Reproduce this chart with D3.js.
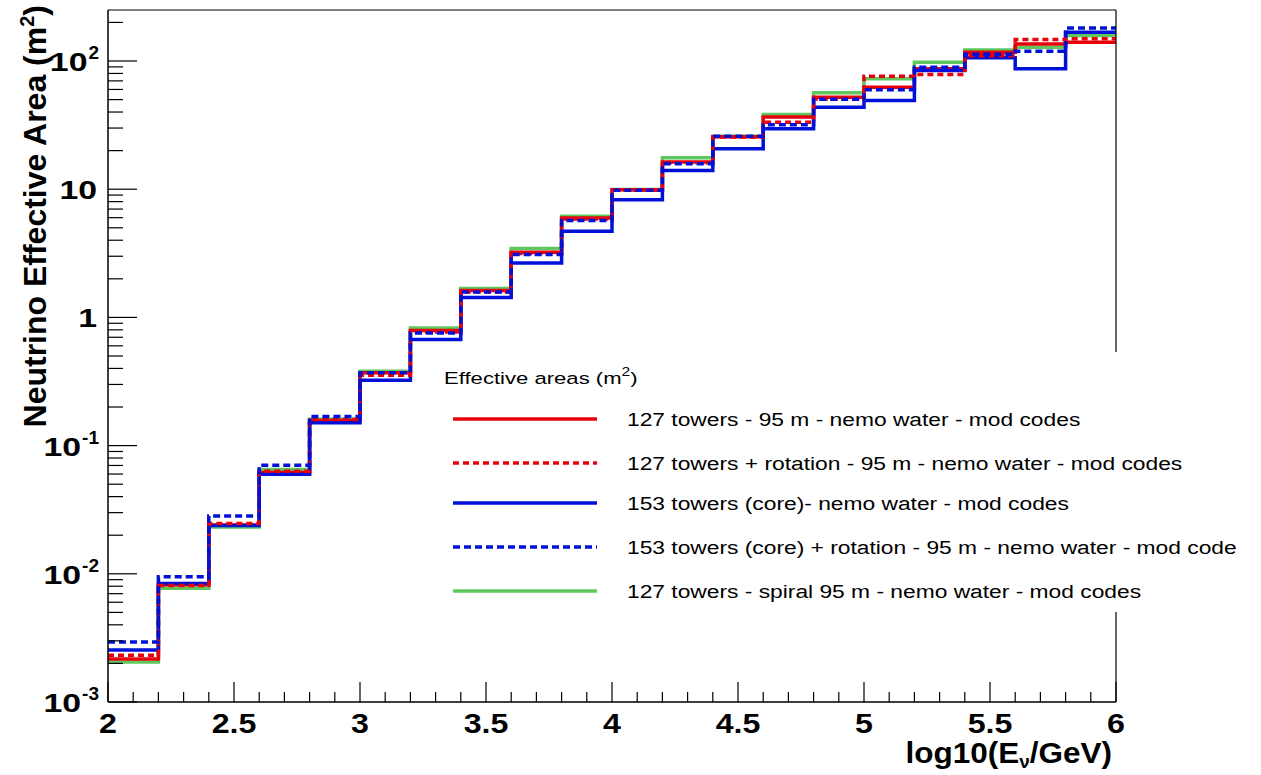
<!DOCTYPE html>
<html>
<head>
<meta charset="utf-8">
<script src="https://cdn.jsdelivr.net/npm/d3@7"></script>
<style>
  body { margin: 0; background: #fff; }
  svg { display: block; }
  text { font-family: "Liberation Sans", Arial, sans-serif; fill: #000; }
</style>
</head>
<body>
<svg id="chart" width="1261" height="775"></svg>
<script>
(function() {

// bin edges: log10(E/GeV) from 2 to 6 in steps of 0.2
var binEdges = [2.0, 2.2, 2.4, 2.6, 2.8, 3.0, 3.2, 3.4, 3.6, 3.8, 4.0,
                4.2, 4.4, 4.6, 4.8, 5.0, 5.2, 5.4, 5.6, 5.8, 6.0];

// effective areas (m^2), one value per bin
var t127 =        [0.00216, 0.0082, 0.0240, 0.0617, 0.157, 0.370, 0.790, 1.62, 3.23, 5.95,
                   9.90, 16.3, 25.7, 36.6, 52.2, 62.5, 87.0, 117, 136, 140];
var t127rot =     [0.00232, 0.0081, 0.0247, 0.0630, 0.160, 0.354, 0.770, 1.58, 3.15, 5.85,
                   9.80, 16.1, 25.5, 33.3, 50.5, 76.2, 78.5, 110, 147, 149];
var t153core =    [0.00254, 0.0084, 0.0238, 0.0599, 0.151, 0.323, 0.671, 1.43, 2.66, 4.69,
                   8.28, 14.0, 20.7, 29.6, 43.6, 49.2, 84.3, 106, 86.9, 168];
var t153rot =     [0.00294, 0.0095, 0.0282, 0.0703, 0.169, 0.370, 0.756, 1.58, 3.09, 5.71,
                   9.80, 15.8, 25.9, 31.8, 50.4, 59.6, 89.5, 113, 119, 181];
var t127spiral =  [0.00205, 0.0077, 0.0232, 0.0651, 0.1607, 0.380, 0.826, 1.68, 3.44, 6.14,
                   9.96, 17.6, 25.9, 38.3, 56.5, 72.6, 97.9, 122, 128, 158];

var xTicks = [2, 2.5, 3, 3.5, 4, 4.5, 5, 5.5, 6];
var yTicks = [1e-3, 1e-2, 1e-1, 1, 10, 100];
var yTickLabels = [["10", "-3"], ["10", "-2"], ["10", "-1"], ["1", ""], ["10", ""], ["10", "2"]];

var legendTitle = "Effective areas (m";
var series = [
    {name: "127 towers - spiral 95 m - nemo water - mod codes", values: t127spiral, color: "#5ec85e", dash: null, order: 4},
    {name: "127 towers - 95 m - nemo water - mod codes", values: t127, color: "#e8000b", dash: null, order: 0},
    {name: "153 towers (core)- nemo water - mod codes", values: t153core, color: "#0010d8", dash: null, order: 2},
    {name: "127 towers + rotation - 95 m - nemo water - mod codes", values: t127rot, color: "#e8000b", dash: "6,4", order: 1},
    {name: "153 towers (core) + rotation - 95 m - nemo water - mod code", values: t153rot, color: "#0010d8", dash: "7,4", order: 3}
];

var svg = d3.select("#chart");
var L = 108, R = 1116, T = 10, B = 702;

var x = d3.scaleLinear().domain([2, 6]).range([L, R]);
var y = d3.scaleLog().domain([1e-3, 250]).range([B, T]);

// horizontally stretched text, like the ROOT fonts
function wideText(parent, px, py, sx, anchor) {
    return parent.append("text")
        .attr("transform", `translate(${px},${py}) scale(${sx},1)`)
        .attr("text-anchor", anchor || "start");
}

// histogram outlines
var line = d3.line()
    .x(d => x(d[0]))
    .y(d => y(d[1]))
    .curve(d3.curveStepAfter);

series.forEach(s => {
    var pts = binEdges.map((e, i) => [e, s.values[Math.min(i, s.values.length - 1)]]);
    svg.append("path")
        .attr("d", line(pts))
        .attr("fill", "none")
        .attr("stroke", s.color)
        .attr("stroke-width", 3.5)
        .attr("stroke-dasharray", s.dash);
});

// frame
svg.append("line").attr("x1", L).attr("x2", R).attr("y1", T).attr("y2", T)
    .attr("stroke", "#000").attr("stroke-width", 1.2);
svg.append("line").attr("x1", R).attr("x2", R).attr("y1", T).attr("y2", B)
    .attr("stroke", "#000").attr("stroke-width", 1.2);

// x axis
var xAxis = svg.append("g").attr("transform", `translate(0,${B})`);
xAxis.append("line").attr("x1", L).attr("x2", R).attr("stroke", "#000").attr("stroke-width", 1.5);
d3.range(2, 6.001, 0.1).forEach(v => {
    var major = Math.abs(v * 2 - Math.round(v * 2)) < 1e-6;
    xAxis.append("line")
        .attr("x1", x(v)).attr("x2", x(v))
        .attr("y1", 0).attr("y2", major ? -20 : -10)
        .attr("stroke", "#000").attr("stroke-width", 1.2);
});
xTicks.forEach(d => {
    wideText(xAxis, x(d), 31, 1.15, "middle")
        .attr("font-size", 28)
        .attr("font-weight", "bold")
        .text(d);
});

var xTitle = wideText(svg, R - 4, 763, 1.05, "end")
    .attr("font-size", 30)
    .attr("font-weight", "bold");
xTitle.append("tspan").text("log10(E");
xTitle.append("tspan").attr("dy", 5).attr("font-size", 18).text("ν");
xTitle.append("tspan").attr("dy", -5).text("/GeV)");

// y axis
var yAxis = svg.append("g");
yAxis.append("line").attr("x1", L).attr("x2", L).attr("y1", T).attr("y2", B)
    .attr("stroke", "#000").attr("stroke-width", 1.5);
for (var e = -3; e <= 2; e++) {
    for (var m = 1; m <= 9; m++) {
        var v = m * Math.pow(10, e);
        if (v > 250) continue;
        yAxis.append("line")
            .attr("x1", L).attr("x2", L + (m === 1 ? 29 : 15))
            .attr("y1", y(v)).attr("y2", y(v))
            .attr("stroke", "#000").attr("stroke-width", 1.2);
    }
}
yTicks.forEach((v, i) => {
    var right = 99;
    var sup = yTickLabels[i][1];
    if (sup) {
        var st = yAxis.append("text")
            .attr("x", right).attr("y", y(v) - 2)
            .attr("text-anchor", "end")
            .attr("font-size", 19)
            .attr("font-weight", "bold")
            .text(sup);
        right -= st.node().getComputedTextLength() + 1;
    } else {
        right -= 2;
    }
    wideText(yAxis, right, y(v) + 10, 1.3, "end")
        .attr("font-size", 26)
        .attr("font-weight", "bold")
        .text(yTickLabels[i][0]);
});

var yTitle = svg.append("text")
    .attr("transform", "translate(46,5) rotate(-90)")
    .attr("text-anchor", "end")
    .attr("font-size", 32)
    .attr("font-weight", "bold");
yTitle.append("tspan").text("Neutrino Effective Area (m");
yTitle.append("tspan").attr("dy", -12).attr("font-size", 20).text("2");
yTitle.append("tspan").attr("dy", 12).text(")");

// legend
var legend = svg.append("g");
legend.append("rect")
    .attr("x", 428).attr("y", 352)
    .attr("width", 1261 - 428).attr("height", 612 - 352)
    .attr("fill", "#fff");

var lt = wideText(legend, 444, 384, 1.3)
    .attr("font-size", 17);
lt.append("tspan").text(legendTitle);
lt.append("tspan").attr("dy", -8).attr("font-size", 12).text("2");
lt.append("tspan").attr("dy", 8).text(")");

var legendRows = series.slice().sort((a, b) => a.order - b.order);
var rowY = [419, 463, 503, 547, 591];
legendRows.forEach((s, i) => {
    legend.append("line")
        .attr("x1", 453).attr("x2", 597)
        .attr("y1", rowY[i]).attr("y2", rowY[i])
        .attr("stroke", s.color)
        .attr("stroke-width", 3.5)
        .attr("stroke-dasharray", s.dash);
    wideText(legend, 627, rowY[i] + 7, 1.2)
        .attr("font-size", 19)
        .text(s.name);
});

})()
</script>
</body>
</html>
